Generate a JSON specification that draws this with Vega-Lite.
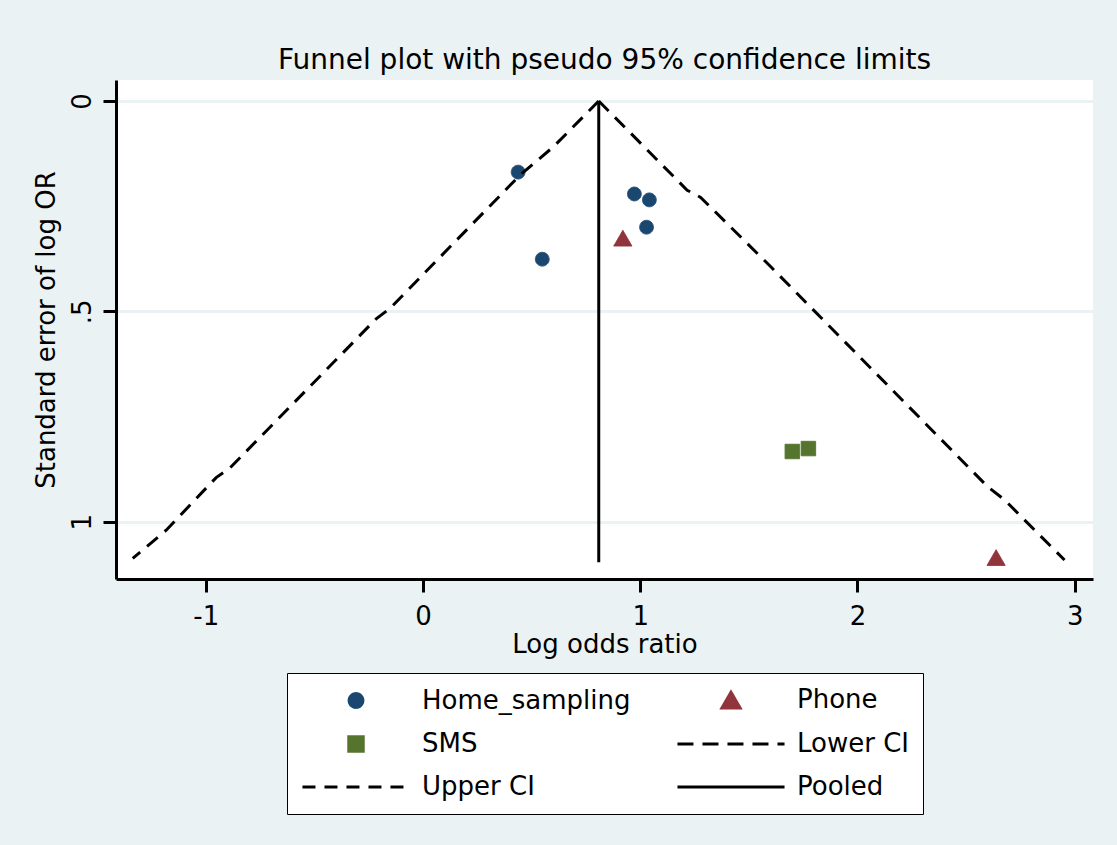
{
  "$schema": "https://vega.github.io/schema/vega-lite/v6.json",
  "autosize": {"type": "none"},
  "width": 977,
  "height": 499,
  "padding": {"left": 116, "top": 80, "right": 24, "bottom": 266},
  "background": "#eaf2f3",
  "title": {
    "text": "Funnel plot with pseudo 95% confidence limits",
    "font": "DejaVu Sans",
    "fontSize": 28,
    "fontWeight": "normal",
    "color": "black",
    "anchor": "middle",
    "offset": 5
  },
  "config": {
    "view": {"fill": "white", "stroke": null},
    "font": "DejaVu Sans",
    "axis": {
      "labelFont": "DejaVu Sans",
      "titleFont": "DejaVu Sans",
      "labelFontSize": 26,
      "titleFontSize": 26,
      "titleFontWeight": "normal",
      "labelColor": "black",
      "titleColor": "black",
      "domainColor": "black",
      "domainWidth": 3,
      "tickColor": "black",
      "tickWidth": 3,
      "tickSize": 13
    },
    "legend": {
      "orient": "none",
      "legendX": 171,
      "legendY": 593,
      "direction": "horizontal",
      "columns": 2,
      "columnPadding": 40,
      "rowPadding": 16,
      "padding": 14,
      "fillColor": "white",
      "strokeColor": "black",
      "labelFont": "DejaVu Sans",
      "labelFontSize": 26,
      "labelColor": "black",
      "labelOffset": 16,
      "labelLimit": 400,
      "symbolStrokeWidth": 3,
      "symbolOpacity": 1
    }
  },
  "datasets": {
    "studies": [
      {"series": "Home_sampling", "logor": 0.438, "se": 0.169},
      {"series": "Home_sampling", "logor": 0.549, "se": 0.376},
      {"series": "Home_sampling", "logor": 0.973, "se": 0.221},
      {"series": "Home_sampling", "logor": 1.042, "se": 0.235},
      {"series": "Home_sampling", "logor": 1.029, "se": 0.300},
      {"series": "Phone", "logor": 0.920, "se": 0.326},
      {"series": "Phone", "logor": 2.638, "se": 1.085},
      {"series": "SMS", "logor": 1.700, "se": 0.833},
      {"series": "SMS", "logor": 1.774, "se": 0.826}
    ],
    "ci": [
      {"series": "Lower CI", "i": 1, "logor": 0.809, "se": 0.0},
      {"series": "Lower CI", "i": 2, "logor": 0.600, "se": 0.109},
      {"series": "Lower CI", "i": 3, "logor": 0.447, "se": 0.176},
      {"series": "Lower CI", "i": 4, "logor": -0.152, "se": 0.493},
      {"series": "Lower CI", "i": 5, "logor": -0.214, "se": 0.517},
      {"series": "Lower CI", "i": 6, "logor": -0.890, "se": 0.873},
      {"series": "Lower CI", "i": 7, "logor": -0.952, "se": 0.895},
      {"series": "Lower CI", "i": 8, "logor": -1.182, "se": 1.020},
      {"series": "Lower CI", "i": 9, "logor": -1.336, "se": 1.087},
      {"series": "Upper CI", "i": 1, "logor": 0.809, "se": 0.0},
      {"series": "Upper CI", "i": 2, "logor": 1.216, "se": 0.212},
      {"series": "Upper CI", "i": 3, "logor": 1.278, "se": 0.229},
      {"series": "Upper CI", "i": 4, "logor": 1.601, "se": 0.394},
      {"series": "Upper CI", "i": 5, "logor": 2.600, "se": 0.917},
      {"series": "Upper CI", "i": 6, "logor": 2.677, "se": 0.948},
      {"series": "Upper CI", "i": 7, "logor": 2.953, "se": 1.091}
    ],
    "pooled": [
      {"series": "Pooled", "i": 1, "logor": 0.809, "se": 0.0},
      {"series": "Pooled", "i": 2, "logor": 0.809, "se": 1.096}
    ]
  },
  "layer": [
    {
      "data": {"name": "studies"},
      "mark": {"type": "point", "filled": true, "opacity": 1, "strokeWidth": 1},
      "encoding": {
        "x": {
          "field": "logor", "type": "quantitative",
          "scale": {"domain": [-1.413, 3.084], "nice": false, "zero": false},
          "axis": {"title": "Log odds ratio", "values": [-1, 0, 1, 2, 3], "labelExpr": "'' + datum.value", "grid": false, "labelPadding": 11, "titlePadding": 2}
        },
        "y": {
          "field": "se", "type": "quantitative",
          "scale": {"domain": [-0.0499, 1.136], "nice": false, "zero": false, "reverse": true},
          "axis": {
            "title": "Standard error of log OR",
            "values": [0, 0.5, 1],
            "labelExpr": "datum.value == 0.5 ? '.5' : '' + datum.value",
            "labelAngle": -90,
            "grid": true,
            "gridColor": "#eaf2f3",
            "gridWidth": 3,
            "labelPadding": 8,
            "titlePadding": 10
          }
        },
        "fill": {
          "field": "series", "type": "nominal",
          "scale": {
            "domain": ["Home_sampling", "Phone", "SMS", "Lower CI", "Upper CI", "Pooled"],
            "range": ["#1a476f", "#90353b", "#55752f", "black", "black", "black"]
          },
          "legend": null
        },
        "stroke": {
          "field": "series", "type": "nominal",
          "scale": {
            "domain": ["Home_sampling", "Phone", "SMS", "Lower CI", "Upper CI", "Pooled"],
            "range": ["#1a476f", "#90353b", "#55752f", "black", "black", "black"]
          },
          "legend": null
        },
        "shape": {
          "field": "series", "type": "nominal",
          "scale": {
            "domain": ["Home_sampling", "Phone", "SMS", "Lower CI", "Upper CI", "Pooled"],
            "range": ["circle", "triangle-up", "square", "M-7.57,0L7.57,0", "M-7.57,0L7.57,0", "M-7.57,0L7.57,0"]
          },
          "legend": null
        },
        "strokeDash": {
          "field": "series", "type": "nominal",
          "scale": {
            "domain": ["Home_sampling", "Phone", "SMS", "Lower CI", "Upper CI", "Pooled"],
            "range": [[1, 0], [1, 0], [1, 0], [16, 9], [13, 9], [1, 0]]
          },
          "legend": null
        },
        "size": {
          "field": "series", "type": "nominal",
          "scale": {
            "type": "ordinal",
            "domain": ["Home_sampling", "Phone", "SMS", "Lower CI", "Upper CI", "Pooled"],
            "range": [190, 330, 210, 200, 200, 200]
          },
          "legend": {
            "title": null,
            "symbolOffset": 42,
            "labelOffset": 53,
            "encode": {
              "legend": {"update": {"strokeWidth": {"value": 3}}},
              "symbols": {
                "update": {
                  "shape": {"scale": "shape", "field": "value"},
                  "fill": {"scale": "fill", "field": "value"},
                  "stroke": {"scale": "stroke", "field": "value"},
                  "strokeDash": {"scale": "strokeDash", "field": "value"},
                  "strokeWidth": {"value": 3},
                  "opacity": {"value": 1}
                }
              }
            }
          }
        }
      }
    },
    {
      "data": {"name": "ci"},
      "mark": {"type": "line", "color": "black", "strokeWidth": 3, "strokeDash": [14, 9]},
      "encoding": {
        "x": {"field": "logor", "type": "quantitative"},
        "y": {"field": "se", "type": "quantitative"},
        "detail": {"field": "series", "type": "nominal"},
        "order": {"field": "i", "type": "quantitative"}
      }
    },
    {
      "data": {"name": "pooled"},
      "mark": {"type": "line", "color": "black", "strokeWidth": 3},
      "encoding": {
        "x": {"field": "logor", "type": "quantitative"},
        "y": {"field": "se", "type": "quantitative"},
        "order": {"field": "i", "type": "quantitative"}
      }
    }
  ]
}
